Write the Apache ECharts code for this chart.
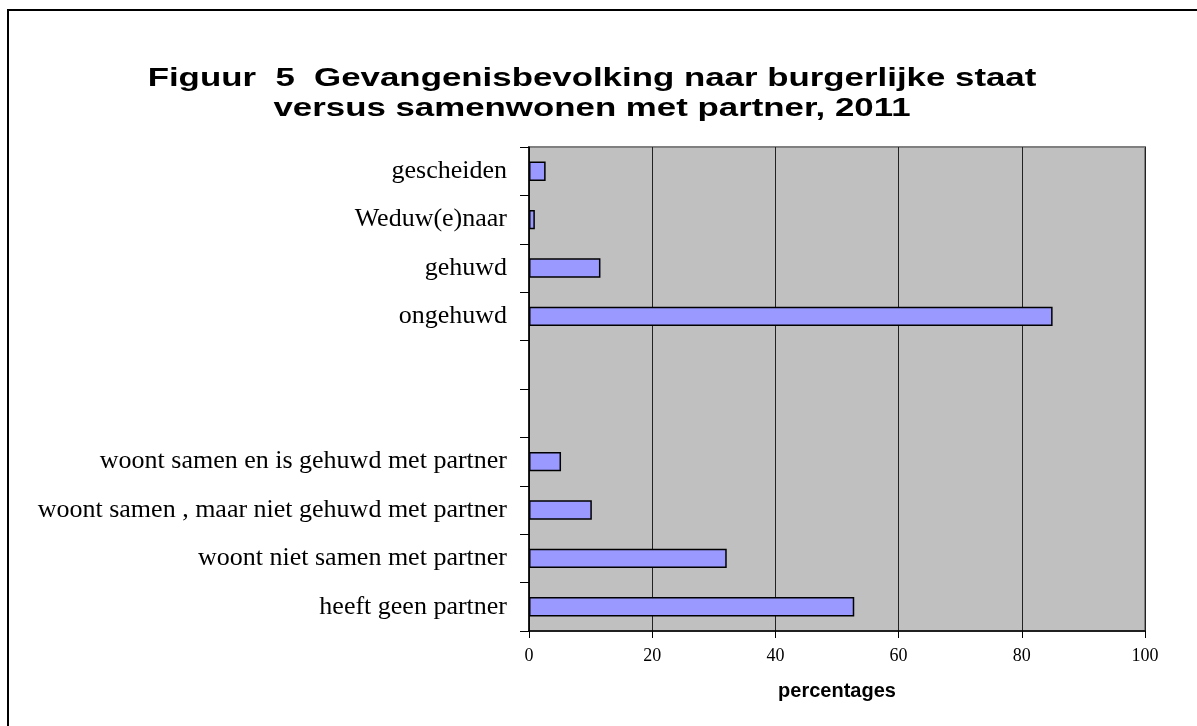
<!DOCTYPE html>
<html>
<head>
<meta charset="utf-8">
<script src="https://cdn.jsdelivr.net/npm/echarts@6/dist/echarts.min.js"></script>
<style>
  html, body { margin: 0; padding: 0; background: #fff; }
  #chart { width: 1197px; height: 726px; }
</style>
</head>
<body>
<div id="chart"></div>
<script>
// categories from bottom to top
const categories = [
  "heeft geen partner",
  "woont niet samen met partner",
  "woont samen , maar niet gehuwd met partner",
  "woont samen en is gehuwd met partner",
  " ",
  "  ",
  "ongehuwd",
  "gehuwd",
  "Weduw(e)naar",
  "gescheiden"
];
const percentages = [52.8, 32.1, 10.2, 5.2, null, null, 85.0, 11.6, 0.95, 2.7];
const xTicks = [0, 20, 40, 60, 80, 100];
const titleLines = [
  "Figuur  5  Gevangenisbevolking naar burgerlijke staat",
  "versus samenwonen met partner, 2011"
];

let chart = echarts.init(document.getElementById("chart"));
let option = {
  animation: false,
  graphic: [
    {
      type: "rect",
      shape: { x: 8, y: 10, width: 1300, height: 800 },
      style: { fill: "none", stroke: "#000", lineWidth: 2 },
      silent: true
    },
    {
      // title, widened like the original
      type: "text",
      x: 592,
      y: 64,
      scaleX: 1.34,
      silent: true,
      style: {
        text: titleLines.join("\n"),
        x: 0,
        y: 0,
        align: "center",
        verticalAlign: "top",
        font: "bold 26px 'Liberation Sans'",
        lineHeight: 30,
        fill: "#000"
      }
    }
  ],
  grid: {
    left: 529,
    right: 52,
    top: 147,
    bottom: 95,
    show: true,
    backgroundColor: "#C0C0C0",
    borderColor: "#808080",
    borderWidth: 2
  },
  xAxis: {
    type: "value",
    min: 0,
    max: 100,
    interval: 20,
    name: "percentages",
    nameLocation: "middle",
    nameGap: 50,
    nameTextStyle: {
      fontFamily: "Liberation Sans",
      fontWeight: "bold",
      fontSize: 20,
      color: "#000"
    },
    axisLine: { show: true, lineStyle: { color: "#000", width: 1.5 } },
    axisTick: { show: true, length: 7, lineStyle: { color: "#000" } },
    axisLabel: {
      margin: 16,
      fontFamily: "Liberation Serif",
      fontSize: 18,
      color: "#000",
      formatter: function (v) { return xTicks.indexOf(v) >= 0 ? String(v) : ""; }
    },
    splitLine: { show: true, lineStyle: { color: "#222", width: 1 } }
  },
  yAxis: {
    type: "category",
    data: categories,
    axisLine: { show: true, lineStyle: { color: "#000", width: 1.5 } },
    axisTick: { show: true, length: 9, inside: false, lineStyle: { color: "#000" } },
    axisLabel: {
      margin: 22,
      fontFamily: "Liberation Serif",
      fontSize: 26,
      color: "#000"
    },
    splitLine: { show: false }
  },
  series: [{
    type: "bar",
    data: percentages,
    barWidth: "40%",
    itemStyle: {
      color: "#9999FF",
      borderColor: "#000",
      borderWidth: 1.5
    }
  }]
};
chart.setOption(option, true);
</script>
</body>
</html>
